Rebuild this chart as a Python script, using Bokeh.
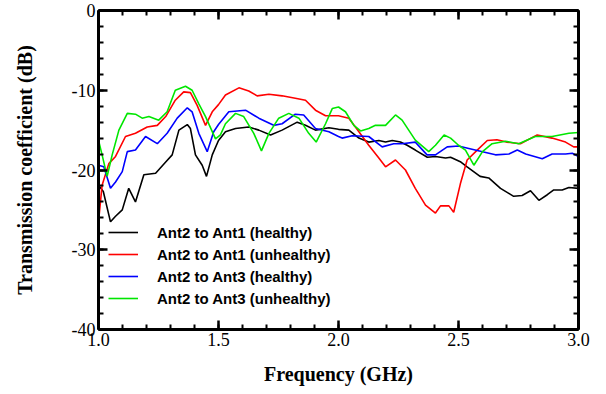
from bokeh.plotting import figure
from bokeh.models import (Range1d, LinearAxis, SingleIntervalTicker, PrintfTickFormatter,
                          CustomJSTickFormatter, Legend, LegendItem)
from bokeh.embed import file_html
from bokeh.resources import INLINE

# ---- data ----
x_black = [1.0, 1.02, 1.05, 1.071, 1.099, 1.126, 1.154, 1.189, 1.238, 1.28, 1.307, 1.335, 1.37, 1.383,
           1.404, 1.432, 1.45, 1.474, 1.50, 1.529, 1.571, 1.626, 1.668, 1.717, 1.765, 1.828, 1.8625,
           1.904, 1.96, 2.0, 2.043, 2.085, 2.126, 2.168, 2.196, 2.224, 2.258, 2.286, 2.32, 2.37,
           2.404, 2.446, 2.467, 2.51, 2.536, 2.59, 2.626, 2.675, 2.73, 2.765, 2.80, 2.835, 2.87,
           2.897, 2.932, 2.96, 3.0]
y_black = [-21.9, -22.7, -26.5, -25.8, -25.0, -22.3, -24.0, -20.6, -20.4, -19.0, -18.1, -15.0, -14.3,
           -14.8, -18.1, -19.4, -20.8, -18.1, -16.3, -15.2, -14.8, -14.6, -15.0, -15.6, -15.0, -14.0,
           -14.4, -15.0, -14.7, -14.9, -15.0, -16.0, -16.5, -16.3, -16.5, -16.3, -16.5, -16.9, -17.5,
           -18.4, -18.3, -18.5, -18.4, -19.0, -19.6, -20.8, -21.0, -22.3, -23.3, -23.2, -22.6, -23.8,
           -23.1, -22.5, -22.5, -22.2, -22.3]

x_red = [1.0, 1.015, 1.043, 1.071, 1.1125, 1.154, 1.203, 1.245, 1.28, 1.32, 1.355, 1.383, 1.411,
         1.446, 1.474, 1.50, 1.529, 1.585, 1.626, 1.661, 1.71, 1.765, 1.82, 1.8625, 1.904, 1.946,
         2.0, 2.043, 2.085, 2.126, 2.168, 2.196, 2.2375, 2.279, 2.32, 2.3625, 2.404, 2.425, 2.46,
         2.48, 2.508, 2.536, 2.578, 2.62, 2.66, 2.70, 2.758, 2.828, 2.89, 2.946, 2.98, 3.0]
y_red = [-26.5, -21.9, -19.2, -18.3, -15.8, -15.4, -14.6, -14.4, -13.3, -11.25, -10.2, -10.3, -11.9,
         -14.4, -12.7, -11.8, -10.6, -9.7, -10.1, -10.7, -10.5, -10.7, -11.0, -11.25, -12.5, -13.2,
         -13.2, -13.5, -15.2, -16.9, -18.5, -19.6, -18.75, -20.0, -22.3, -24.4, -25.4, -24.5, -24.5,
         -25.3, -21.7, -18.75, -17.5, -16.3, -16.2, -16.5, -16.7, -15.6, -16.0, -16.5, -17.1, -17.1]

x_blue = [1.0, 1.022, 1.05, 1.071, 1.099, 1.12, 1.154, 1.196, 1.245, 1.286, 1.328, 1.37, 1.39, 1.418,
          1.453, 1.48, 1.50, 1.543, 1.6125, 1.668, 1.73, 1.765, 1.82, 1.855, 1.904, 1.96, 2.0, 2.015,
          2.057, 2.126, 2.182, 2.23, 2.265, 2.32, 2.369, 2.404, 2.453, 2.50, 2.543, 2.60, 2.654,
          2.71, 2.745, 2.78, 2.849, 2.89, 2.946, 2.974, 3.0]
y_blue = [-19.4, -19.6, -22.3, -21.5, -20.2, -17.7, -17.5, -15.8, -16.7, -15.4, -13.5, -12.2, -12.7,
          -15.4, -17.7, -15.2, -14.3, -12.7, -12.5, -13.5, -14.4, -14.2, -13.0, -13.1, -14.8, -15.2,
          -15.8, -16.0, -15.7, -15.8, -17.1, -16.7, -16.7, -16.5, -18.1, -18.1, -17.1, -17.0, -17.3,
          -17.7, -18.1, -18.0, -17.5, -18.0, -18.6, -18.0, -18.0, -17.9, -18.3]

x_green = [1.0, 1.015, 1.036, 1.057, 1.085, 1.12, 1.154, 1.182, 1.21, 1.251, 1.286, 1.32, 1.3625,
           1.39, 1.418, 1.446, 1.4875, 1.508, 1.529, 1.571, 1.605, 1.647, 1.679, 1.71, 1.751, 1.793,
           1.835, 1.876, 1.907, 1.946, 1.974, 2.0, 2.029, 2.064, 2.092, 2.126, 2.154, 2.196, 2.2375,
           2.265, 2.32, 2.376, 2.404, 2.44, 2.467, 2.50, 2.529, 2.564, 2.60, 2.64, 2.696, 2.751,
           2.82, 2.89, 2.96, 3.0]
y_green = [-16.25, -18.1, -20.8, -18.1, -15.0, -12.9, -13.0, -13.5, -13.3, -13.75, -12.7, -10.0, -9.5,
           -10.0, -11.7, -13.3, -16.1, -15.6, -14.2, -12.9, -13.3, -15.4, -17.6, -15.4, -13.5, -12.9,
           -13.5, -15.4, -16.5, -14.2, -12.3, -12.1, -12.7, -14.4, -15.1, -14.8, -14.4, -14.4, -13.1,
           -13.75, -16.25, -17.7, -16.9, -15.6, -16.0, -16.9, -17.5, -19.4, -17.7, -16.7, -16.4, -16.7,
           -15.8, -15.8, -15.4, -15.3]

labels = ["Ant2 to Ant1 (healthy)", "Ant2 to Ant1 (unhealthy)",
          "Ant2 to Ant3 (healthy)", "Ant2 to Ant3 (unhealthy)"]
colors = ["#000000", "#ff0000", "#0000ff", "#00e600"]

p = figure(width=606, height=394, output_backend="svg", toolbar_location=None,
           x_range=Range1d(1.0, 3.0), y_range=Range1d(-40, 0),
           min_border_left=98, min_border_right=28, min_border_top=10, min_border_bottom=65,
           x_axis_type=None, y_axis_type=None)
p.outline_line_color = None
p.background_fill_color = "white"
p.border_fill_color = "white"

SERIF = "Liberation Serif"

def style_axis(ax, show_labels):
    ax.axis_line_width = 3
    ax.axis_line_color = "black"
    ax.major_tick_line_width = 2.5
    ax.minor_tick_line_width = 2
    ax.major_tick_in = 9
    ax.major_tick_out = 0
    ax.minor_tick_in = 5
    ax.minor_tick_out = 0
    ax.major_label_text_font = SERIF
    ax.axis_label_text_font = SERIF
    ax.axis_label_text_font_style = "bold"
    ax.axis_label_text_font_size = "20px"
    ax.axis_label_text_color = "black"
    ax.major_label_text_color = "black"
    if show_labels:
        ax.major_label_text_font_size = "18px"
        ax.major_label_standoff = 3
    else:
        ax.major_label_text_font_size = "0px"
        ax.major_label_standoff = 0

xt = lambda: SingleIntervalTicker(interval=0.5, num_minor_ticks=5)
yt = lambda: SingleIntervalTicker(interval=10, num_minor_ticks=5)
blank = lambda: CustomJSTickFormatter(code="return ''")

xb = LinearAxis(ticker=xt(), formatter=PrintfTickFormatter(format="%.1f"),
                axis_label="Frequency (GHz)", axis_label_standoff=14)
style_axis(xb, True)
yl = LinearAxis(ticker=yt(),
                formatter=CustomJSTickFormatter(code="return (tick < 0 ? '-' : '') + String(Math.abs(Math.round(tick)))"),
                axis_label="Transmission coefficient (dB)", axis_label_standoff=33)
style_axis(yl, True)
xa = LinearAxis(ticker=xt(), formatter=blank())
style_axis(xa, False)
yr = LinearAxis(ticker=yt(), formatter=blank())
style_axis(yr, False)
p.add_layout(xb, "below")
p.add_layout(yl, "left")
p.add_layout(xa, "above")
p.add_layout(yr, "right")

items = []
for xs, ys, c, lab in zip([x_black, x_red, x_blue, x_green],
                          [y_black, y_red, y_blue, y_green], colors, labels):
    r = p.line(xs, ys, line_color=c, line_width=1.6)
    items.append(LegendItem(label=lab, renderers=[r]))

legend = Legend(items=items, location=(10, 21), border_line_color=None,
                background_fill_alpha=0, padding=0, margin=0, spacing=2,
                glyph_width=30, glyph_height=20, label_height=20, label_standoff=19,
                label_text_font="Liberation Sans", label_text_font_style="bold",
                label_text_font_size="15px", label_text_color="black")
p.add_layout(legend, "center")

open("out.html", "w").write(file_html(p, INLINE))
